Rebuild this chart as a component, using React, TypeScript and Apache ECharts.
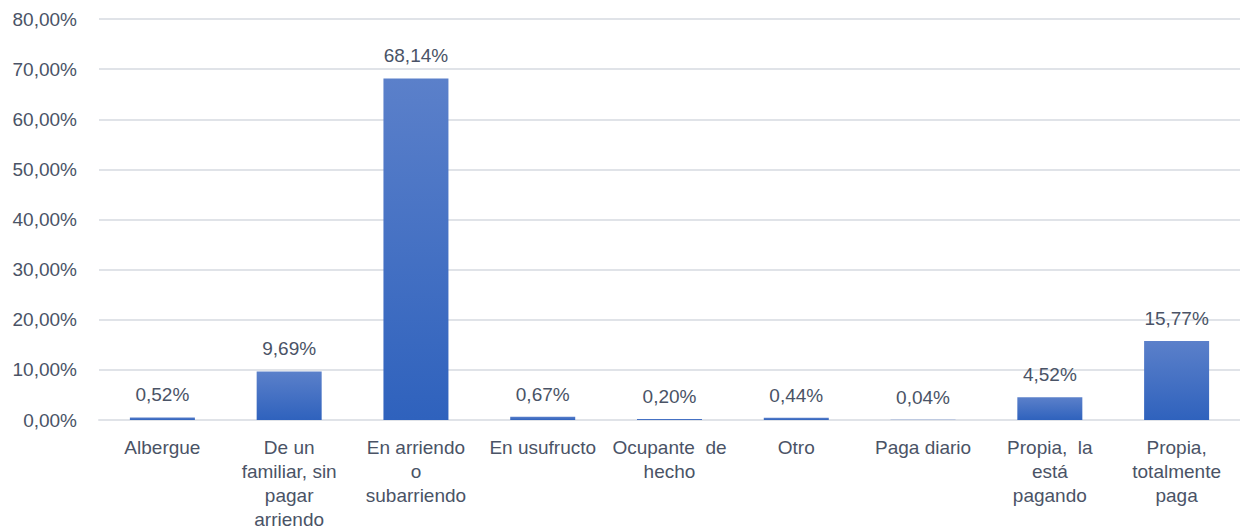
import React, { useEffect, useRef } from "react";
import * as echarts from "echarts";

const categories = [
  "Albergue",
  "De un\nfamiliar, sin\npagar\narriendo",
  "En arriendo\no\nsubarriendo",
  "En usufructo",
  "Ocupante  de\nhecho",
  "Otro",
  "Paga diario",
  "Propia,  la\nestá\npagando",
  "Propia,\ntotalmente\npaga",
];
const values = [0.52, 9.69, 68.14, 0.67, 0.2, 0.44, 0.04, 4.52, 15.77];
const yTicks = { min: 0, max: 80, interval: 10 };

const fmt = (v: number) => v.toFixed(2).replace(".", ",") + "%";

export default function App() {
  const ref = useRef<HTMLDivElement>(null);
  useEffect(() => {
    if (!ref.current) return;
    const chart = echarts.init(ref.current, undefined, { renderer: "svg" });
    const textColor = "#4a5366";
    const font = "Liberation Sans, Arial, sans-serif";
    chart.setOption({
      animation: false,
      grid: {
        left: 99,
        right: 0,
        top: 19,
        bottom: 107,
        containLabel: false,
        outerBoundsMode: "none",
      },
      xAxis: {
        type: "category",
        data: categories,
        axisTick: { show: false },
        axisLine: { show: true, lineStyle: { color: "#e0e3e8", width: 2 } },
        axisLabel: {
          color: textColor,
          fontSize: 19,
          fontFamily: font,
          lineHeight: 24,
          margin: 15,
          interval: 0,
          verticalAlign: "top",
        },
      },
      yAxis: {
        type: "value",
        min: yTicks.min,
        max: yTicks.max,
        interval: yTicks.interval,
        axisLine: { show: false },
        axisTick: { show: false },
        splitLine: { lineStyle: { color: "#e0e3e8", width: 2 } },
        axisLabel: {
          color: textColor,
          fontSize: 19,
          fontFamily: font,
          margin: 22,
          formatter: (v: number) => fmt(v),
        },
      },
      series: [
        {
          type: "bar",
          data: values,
          barWidth: 65,
          itemStyle: {
            color: new echarts.graphic.LinearGradient(0, 0, 0, 1, [
              { offset: 0, color: "#5b80ca" },
              { offset: 1, color: "#2f62bd" },
            ]),
          },
          label: {
            show: true,
            position: "top",
            distance: 13,
            color: textColor,
            fontSize: 19,
            fontFamily: font,
            formatter: (p: any) => fmt(p.value),
          },
        },
      ],
    });
    return () => chart.dispose();
  }, []);
  return (
    <div
      ref={ref}
      style={{ position: "absolute", left: 0, top: 0, width: 1240, height: 527 }}
    />
  );
}
